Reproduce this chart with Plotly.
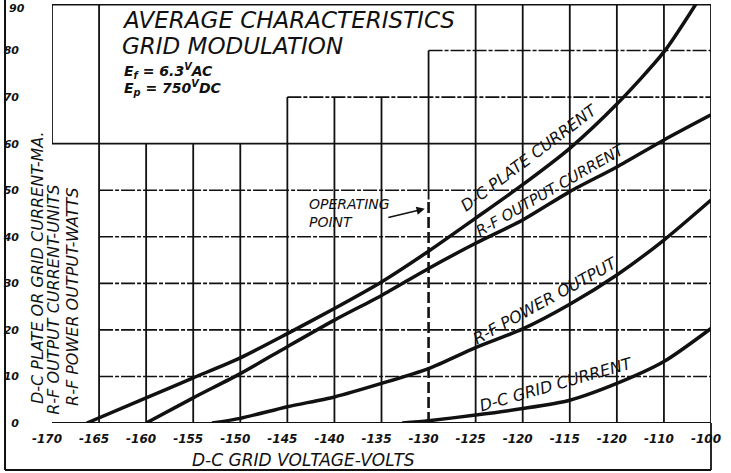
import plotly.graph_objects as go

# ---------------- data ----------------
plate_v = [-166.3, -160, -155, -150, -145, -140, -135, -130, -125, -120, -115, -110, -105, -101.6]
plate_i = [0, 5.4, 9.7, 14.0, 19.2, 24.6, 30.3, 36.9, 44.0, 51.2, 59.0, 68.5, 79.7, 90]

rfout_v = [-160, -155, -150, -145, -140, -135, -130, -125, -120, -115, -110, -105, -100]
rfout_i = [0, 5.4, 10.6, 16.4, 22.1, 27.4, 33.2, 38.6, 43.6, 49.7, 55.0, 60.8, 66.2]

power_v = [-153, -150, -145, -140, -135, -130, -125, -120, -115, -110, -105, -100]
power_w = [0, 1.0, 3.5, 5.6, 8.5, 11.7, 16.2, 20.2, 25.5, 31.8, 39.3, 47.9]

grid_v = [-132.8, -130, -125, -120, -115, -110, -105, -100]
grid_i = [0, 0.5, 1.7, 3.1, 4.9, 8.5, 13.2, 20.3]

x_tickvals = [-170, -165, -160, -155, -150, -145, -140, -135, -130, -125, -120, -115, -110, -105, -100]
x_ticktext = ["-170", "-165", "-160", "-155", "-150", "-145", "-140", "-135", "-130", "-125",
              "-120", "-115", "-120", "-110", "-100"]
y_tickvals = [0, 10, 20, 30, 40, 50, 60, 70, 80, 90]
y_ticktext = ["0", "10", "20", "30", "40", "50", "60", "70", "80", "90"]

# grid structure (stepped around the title block)
vgrid_lo = [60, 0, 0, 0, 0, 0, 0, 0, 48, 0, 0, 0, 0, 0, 0]
vgrid_hi = [90, 90, 60, 60, 60, 70, 70, 70, 80, 90, 90, 90, 90, 90, 90]
hgrid_from = [-170, -165, -165, -165, -165, -165, -170, -145, -130, -170]
hgrid_dashed = [False, True, True, True, True, True, False, True, True, False]
hgrid_width = [1.8, 1.6, 1.6, 1.6, 1.6, 1.6, 1.8, 1.6, 1.6, 3.2]

operating_point = -130
operating_top = 48

FONT = "DejaVu Sans"
INK = "#111111"

fig = go.Figure()

for xs, ys in [(plate_v, plate_i), (rfout_v, rfout_i), (power_v, power_w), (grid_v, grid_i)]:
    fig.add_trace(go.Scatter(
        x=xs, y=ys, mode="lines",
        line=dict(color=INK, width=3.5, shape="spline", smoothing=0.7),
        hoverinfo="skip", showlegend=False))

shapes = []
for xv, lo, hi in zip(x_tickvals, vgrid_lo, vgrid_hi):
    shapes.append(dict(type="line", xref="x", yref="y", x0=xv, x1=xv, y0=lo, y1=hi,
                       line=dict(color=INK, width=1.8), layer="below"))
for yv, x0, dashed, w in zip(y_tickvals, hgrid_from, hgrid_dashed, hgrid_width):
    shapes.append(dict(type="line", xref="x", yref="y", x0=x0, x1=x_tickvals[-1], y0=yv, y1=yv,
                       line=dict(color=INK, width=w,
                                 dash="14px,2px,4px,2px" if dashed else "solid"),
                       layer="below"))
# operating point dashed line
shapes.append(dict(type="line", xref="x", yref="y", x0=operating_point, x1=operating_point,
                   y0=0, y1=operating_top, line=dict(color=INK, width=2.6, dash="11px,4px")))
# outer frame of the original sheet
shapes.append(dict(type="line", xref="paper", yref="paper", x0=-0.0713, x1=-0.0713,
                   y0=-0.1122, y1=1.02, line=dict(color=INK, width=2)))
shapes.append(dict(type="line", xref="paper", yref="paper", x0=-0.0713, x1=1.0,
                   y0=-0.1122, y1=-0.1122, line=dict(color=INK, width=2)))
shapes.append(dict(type="line", xref="paper", yref="paper", x0=1.0, x1=1.0,
                   y0=-0.1122, y1=0, line=dict(color=INK, width=1.8)))

def fnt(size, bold=False):
    return dict(family=FONT, size=size, color=INK, style="italic",
                weight="bold" if bold else "normal")

def ann(text, x, y, size, ref="data", angle=0, xa="center", ya="middle", bold=False, align="center"):
    return dict(text=text, x=x, y=y, xref="x" if ref == "data" else "paper",
                yref="y" if ref == "data" else "paper", textangle=angle,
                xanchor=xa, yanchor=ya, align=align, showarrow=False, font=fnt(size, bold))

annotations = [
    ann("AVERAGE CHARACTERISTICS", -162.8, 86.5, 23, xa="left"),
    ann("GRID MODULATION", -162.8, 81.0, 23, xa="left"),
    ann("E<sub>f</sub> = 6.3<sup>V</sup>AC", -162.6, 75.6, 14, xa="left", bold=True),
    ann("E<sub>p</sub> = 750<sup>V</sup>DC", -162.6, 72.0, 14, xa="left", bold=True),
    # curve labels
    ann("D-C PLATE CURRENT", -119.3, 57.0, 16, angle=-37),
    ann("R-F OUTPUT CURRENT", -117.0, 50.0, 15, angle=-30),
    ann("R-F POWER OUTPUT", -117.6, 26.4, 16, angle=-29),
    ann("D-C GRID CURRENT", -116.5, 8.2, 16, angle=-16),
    ann("OPERATING<br>POINT", -142.9, 45.2, 14, xa="left", align="left"),
    dict(text="", x=-130.4, y=46.0, xref="x", yref="y", ax=-38, ay=9,
         showarrow=True, arrowhead=2, arrowsize=1.1, arrowwidth=1.5, arrowcolor=INK),
    # axis titles
    ann("D-C PLATE OR GRID CURRENT-MA.", -0.0228, 0.372, 16, ref="paper", angle=-90),
    ann("R-F OUTPUT CURRENT-UNITS", 0.003, 0.294, 16, ref="paper", angle=-90),
    ann("R-F POWER OUTPUT-WATTS", 0.032, 0.301, 16, ref="paper", angle=-90),
    ann("D-C GRID VOLTAGE-VOLTS", 0.381, -0.0883, 17, ref="paper"),
    # top tick label (drawn as annotation so it is not dropped at the page edge)
    dict(text=y_ticktext[-1], x=-0.0713, y=1.0, xref="paper", yref="paper",
         xanchor="left", yanchor="middle", xshift=2, yshift=-4, showarrow=False, font=fnt(11, True)),
]

fig.update_layout(
    width=731, height=473, autosize=False,
    margin=dict(l=52, r=20, t=4, b=50, pad=0),
    paper_bgcolor="white", plot_bgcolor="white",
    shapes=shapes, annotations=annotations,
    hovermode=False, showlegend=False,
    xaxis=dict(range=[-170, -100], tickvals=x_tickvals, ticktext=x_ticktext,
               showgrid=False, zeroline=False, showline=False, ticks="",
               tickfont=fnt(12, True), ticklabelstandoff=7, ticklabelshift=-5,
               automargin=False, fixedrange=True),
    yaxis=dict(range=[0, 90], tickvals=y_tickvals[:-1], ticktext=y_ticktext[:-1],
               showgrid=False, zeroline=False, showline=False, ticks="",
               tickfont=fnt(11, True), ticklabelstandoff=32,
               automargin=False, fixedrange=True),
)

fig.write_html("out.html", config={"displayModeBar": False},
               post_script="document.body.style.margin='0px';")
